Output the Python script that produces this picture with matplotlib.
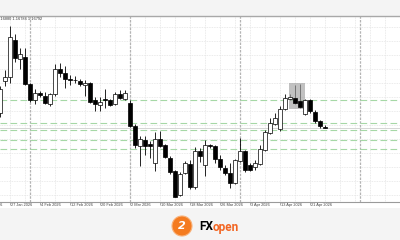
import numpy as np
import pandas as pd
import matplotlib
matplotlib.use("Agg")
import matplotlib.pyplot as plt
from matplotlib.patches import Rectangle, Circle

# EURUSD daily candles, 23 Jan 2026 .. 24 Apr 2026
opens = [1.1738, 1.1866, 1.1882, 1.2030, 1.1954, 1.1962, 1.1854, 1.1790, 1.1816, 1.1806,
         1.1774, 1.1814, 1.1912, 1.1898, 1.1874, 1.1870, 1.1866, 1.1850, 1.1856, 1.1788,
         1.1770, 1.1792, 1.1788, 1.1774, 1.1812, 1.1796, 1.1776, 1.1686, 1.1606, 1.1630,
         1.1612, 1.1540, 1.1634, 1.1608, 1.1560, 1.1504, 1.1410, 1.1498, 1.1536, 1.1444,
         1.1584, 1.1530, 1.1608, 1.1604, 1.1554, 1.1520, 1.1498, 1.1458, 1.1546, 1.1584,
         1.1532, 1.1522, 1.1536, 1.1590, 1.1660, 1.1696, 1.1674, 1.1756, 1.1796, 1.1796,
         1.1784, 1.1736, 1.1790, 1.1742, 1.1704, 1.1683]
highs = [1.1846, 1.1910, 1.2086, 1.2054, 1.2000, 1.1998, 1.1858, 1.1834, 1.1826, 1.1822,
         1.1818, 1.1934, 1.1938, 1.1926, 1.1890, 1.1886, 1.1874, 1.1870, 1.1862, 1.1804,
         1.1802, 1.1834, 1.1794, 1.1824, 1.1832, 1.1830, 1.1790, 1.1694, 1.1648, 1.1646,
         1.1628, 1.1662, 1.1664, 1.1614, 1.1566, 1.1510, 1.1502, 1.1544, 1.1550, 1.1602,
         1.1598, 1.1630, 1.1614, 1.1610, 1.1570, 1.1530, 1.1538, 1.1554, 1.1638, 1.1590,
         1.1538, 1.1550, 1.1610, 1.1670, 1.1718, 1.1738, 1.1766, 1.1814, 1.1814, 1.1850,
         1.1854, 1.1794, 1.1794, 1.1750, 1.1710, 1.1688]
lows = [1.1722, 1.1846, 1.1858, 1.1942, 1.1914, 1.1850, 1.1784, 1.1774, 1.1802, 1.1774,
        1.1766, 1.1806, 1.1882, 1.1838, 1.1850, 1.1858, 1.1846, 1.1806, 1.1780, 1.1746,
        1.1744, 1.1758, 1.1766, 1.1770, 1.1794, 1.1790, 1.1682, 1.1600, 1.1526, 1.1570,
        1.1558, 1.1504, 1.1602, 1.1558, 1.1494, 1.1402, 1.1406, 1.1494, 1.1434, 1.1434,
        1.1542, 1.1486, 1.1600, 1.1538, 1.1510, 1.1490, 1.1438, 1.1454, 1.1542, 1.1502,
        1.1506, 1.1510, 1.1530, 1.1586, 1.1654, 1.1690, 1.1666, 1.1750, 1.1790, 1.1774,
        1.1758, 1.1730, 1.1738, 1.1698, 1.1678, 1.16784]
closes = [1.1834, 1.1882, 1.2042, 1.1960, 1.1976, 1.1854, 1.1788, 1.1818, 1.1808, 1.1780,
          1.1814, 1.1914, 1.1898, 1.1874, 1.1870, 1.1868, 1.1854, 1.1856, 1.1784, 1.1776,
          1.1784, 1.1788, 1.1770, 1.1814, 1.1798, 1.1816, 1.1686, 1.1610, 1.1632, 1.1606,
          1.1606, 1.1632, 1.1608, 1.1562, 1.1502, 1.1404, 1.1496, 1.1536, 1.1444, 1.1584,
          1.1566, 1.1608, 1.1604, 1.1554, 1.1522, 1.1498, 1.1458, 1.1548, 1.1584, 1.1510,
          1.1510, 1.1538, 1.1594, 1.1662, 1.1698, 1.1720, 1.1756, 1.1796, 1.1804, 1.1780,
          1.1764, 1.1790, 1.1744, 1.1704, 1.1684, 1.16792]

# horizontal levels (green dashed)
levels = [1.1790, 1.1700, 1.1670, 1.1630, 1.1593]
# highlighted zone: bar range and price range
zone_bars = (57.8, 60.9)
zone_prices = (1.1756, 1.1856)
header = "1.16880 1.16784 1.16792"

dates = pd.bdate_range("2026-01-19", periods=70)[4:]   # first bar = 23 Jan
label_idx = [-4, 2, 8, 14, 20, 26, 32, 38, 44, 50, 56, 62]
separators = [6, 26, 48, 72]

idx = np.arange(len(opens))
o = np.array(opens); h = np.array(highs); l = np.array(lows); c = np.array(closes)
up = c >= o

fig = plt.figure(figsize=(4, 2.4), dpi=100, facecolor="#f4f4f4")
fig.patches.append(Rectangle((0, 32 / 240), 1, 192 / 240, transform=fig.transFigure,
                             facecolor="white", edgecolor="none", zorder=-1))
ax = fig.add_axes([0, 38.3 / 240, 1, 185.7 / 240])
ax.set_facecolor("white")
ax.set_xlim(0, 80)
ax.set_ylim(1.13832, 1.2126)

# grid
for gx in np.arange(2, 81, 3):
    ax.axvline(gx, color="#e4e4e4", lw=0.6, ls=(0, (1, 1)), zorder=0)
for gy in 1.2082 - 0.005612 * np.arange(13):
    ax.axhline(gy, color="#e4e4e4", lw=0.6, ls=(0, (1, 1)), zorder=0)
for s in separators:
    ax.axvline(s, color="#b4b4b4", lw=0.9, ls=(0, (2, 1)), zorder=0.5)
for lv in levels:
    ax.axhline(lv, color="#a6d8a6", lw=0.8, ls=(0, (6, 3)), zorder=0.6)
ax.axhline(c[-1], color="#cfcfcf", lw=0.6, zorder=0.6)

# candles
ax.vlines(idx, l, h, color="black", lw=0.6, zorder=1)
ax.add_patch(Rectangle((zone_bars[0], zone_prices[0]), zone_bars[1] - zone_bars[0],
                       zone_prices[1] - zone_prices[0], facecolor="#a0a0a0",
                       alpha=0.65, edgecolor="none", zorder=2))
ax.bar(idx, np.abs(c - o), bottom=np.minimum(o, c), width=0.66,
       color=np.where(up, "white", "black"), edgecolor="black", linewidth=0.5, zorder=3)

# header text (cut at the left edge)
ax.text(-0.6, 1.2114, header, fontsize=2.8, family="Liberation Sans", color="#333333",
        va="center", ha="left", clip_on=True)

# time axis
for sp in ["left", "right"]:
    ax.spines[sp].set_visible(False)
ax.spines["top"].set_color("#a8a8a8")
ax.spines["top"].set_linewidth(1.0)
ax.spines["bottom"].set_color("#9a9a9a")
ax.spines["bottom"].set_linewidth(0.8)
ax.set_yticks([])
ax.set_xticks([i for i in label_idx if i >= 0])
ax.tick_params(axis="x", length=2, width=0.5, color="#888888", labelbottom=False)
for i in label_idx:
    d = pd.Timestamp("2026-01-19") if i < 0 else dates[i]
    ax.text(i + 0.15, -0.016, f"{d.day} {d.strftime('%b %Y')}", transform=ax.get_xaxis_transform(),
            fontsize=2.8, family="Liberation Sans", color="#444444", va="center", ha="left",
            clip_on=False)

# FXOpen logo
fig.patches.append(Circle((1.82, 0.14), 0.10, transform=fig.dpi_scale_trans,
                          facecolor="#f47b20", edgecolor="#f9b27a", lw=0.8))
fig.text(0.455, 0.058, "2", color="white", fontsize=8, weight="bold", style="italic",
         ha="center", va="center")
fig.text(0.499, 0.058, "FX", color="black", fontsize=8.5, family="Roboto", weight="bold",
         ha="left", va="center")
fig.text(0.532, 0.052, "open", color="#f26522", fontsize=8.5, family="Roboto", weight="bold",
         ha="left", va="center")

fig.savefig("out.png", dpi=100, facecolor=fig.get_facecolor())
